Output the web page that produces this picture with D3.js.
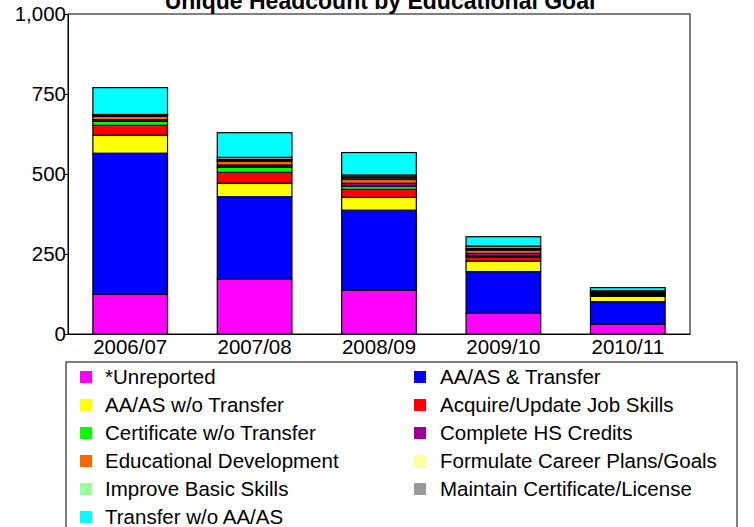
<!DOCTYPE html>
<html><head><meta charset="utf-8">
<script src="https://cdn.jsdelivr.net/npm/d3@7"></script>
<style>body{margin:0;background:#fff}svg{display:block}text{font-family:"Liberation Sans",Arial,sans-serif}</style>
</head><body>
<svg id="c" width="754" height="527"></svg>
<script>
const years = ["2006/07","2007/08","2008/09","2009/10","2010/11"];
const goals = ["*Unreported","AA/AS & Transfer","AA/AS w/o Transfer","Acquire/Update Job Skills","Certificate w/o Transfer","Complete HS Credits","Educational Development","Formulate Career Plans/Goals","Improve Basic Skills","Maintain Certificate/License","Transfer w/o AA/AS"];
const colors = ["#FF00FF","#0000FF","#FFFF00","#FF0000","#00FF00","#990099","#FF6600","#FFFF99","#99FF99","#999999","#00FFFF"];
const unreported   = [124,171,137,65,31];
const aaasTransfer = [441,258,250,130,70];
const aaasNoTrans  = [56,42,40,33,17];
const acquireJob   = [31,34,25,13,4];
const certNoTrans  = [13,17,10,3,1];
const completeHS   = [5,6,9,8,3];
const eduDev       = [10,12,12,10,3];
const formulate    = [2,3,5,3,1];
const improveBasic = [1,2,3,2,1];
const maintainCert = [3,7,6,8,4];
const transferNoAA = [84,77,70,29,10];
const yTicks = [0,250,500,750,1000];

const series = [unreported,aaasTransfer,aaasNoTrans,acquireJob,certNoTrans,completeHS,eduDev,formulate,improveBasic,maintainCert,transferNoAA];
const rows = years.map((y,i)=>{const o={year:y};goals.forEach((g,k)=>o[g]=series[k][i]);return o;});
const stack = d3.stack().keys(goals)(rows);

const svg = d3.select("#c");
const L=68,R=690,T=14,B=334;
const FS = 20.5;
const x = d3.scaleBand().domain(years).range([L,R]).paddingInner(0.4).paddingOuter(0.2);
const y = d3.scaleLinear().domain([0,1000]).range([B,T]);

// frame
svg.append("rect").attr("x",L).attr("y",T).attr("width",R-L).attr("height",B-T)
  .attr("fill","none").attr("stroke","#000").attr("stroke-width",1);

// title
svg.append("text").attr("x",380).attr("y",9).attr("text-anchor","middle")
  .attr("font-size",23).attr("font-weight","bold").text("Unique Headcount by Educational Goal");

// bars
svg.append("g").selectAll("g").data(stack).join("g")
  .attr("fill",(d,i)=>colors[i])
  .selectAll("rect").data(d=>d).join("rect")
  .attr("x",d=>x(d.data.year)).attr("width",x.bandwidth())
  .attr("y",d=>y(d[1])).attr("height",d=>y(d[0])-y(d[1]))
  .attr("stroke","#000").attr("stroke-width",1.2);

// axes
const ya = svg.append("g").attr("transform",`translate(${L},0)`)
  .call(d3.axisLeft(y).tickValues(yTicks).tickSize(3).tickFormat(d3.format(",")));
ya.select(".domain").attr("stroke","#000");
ya.selectAll("text").attr("font-size",FS).attr("font-family","Liberation Sans, Arial, sans-serif").attr("fill","#000").attr("x",-2);
const xa = svg.append("g").attr("transform",`translate(0,${B})`)
  .call(d3.axisBottom(x).tickSize(0));
xa.select(".domain").attr("stroke","#000");
xa.selectAll("text").attr("font-size",FS).attr("font-family","Liberation Sans, Arial, sans-serif").attr("fill","#000").attr("dy","0.9em").attr("y",2);

// legend
svg.append("rect").attr("x",66).attr("y",362).attr("width",671).attr("height",200)
  .attr("fill","none").attr("stroke","#000").attr("stroke-width",1);
const lg = svg.append("g").selectAll("g").data(goals).join("g")
  .attr("transform",(d,i)=>`translate(${i%2===0?80:414},${377+Math.floor(i/2)*28})`);
lg.append("rect").attr("x",0).attr("y",-6).attr("width",12).attr("height",12).attr("fill",(d,i)=>colors[i]);
lg.append("text").attr("x",(d,i)=>i%2===0?25:26).attr("y",0).attr("dy","0.35em").attr("font-size",FS).text(d=>d);
</script>
</body></html>
